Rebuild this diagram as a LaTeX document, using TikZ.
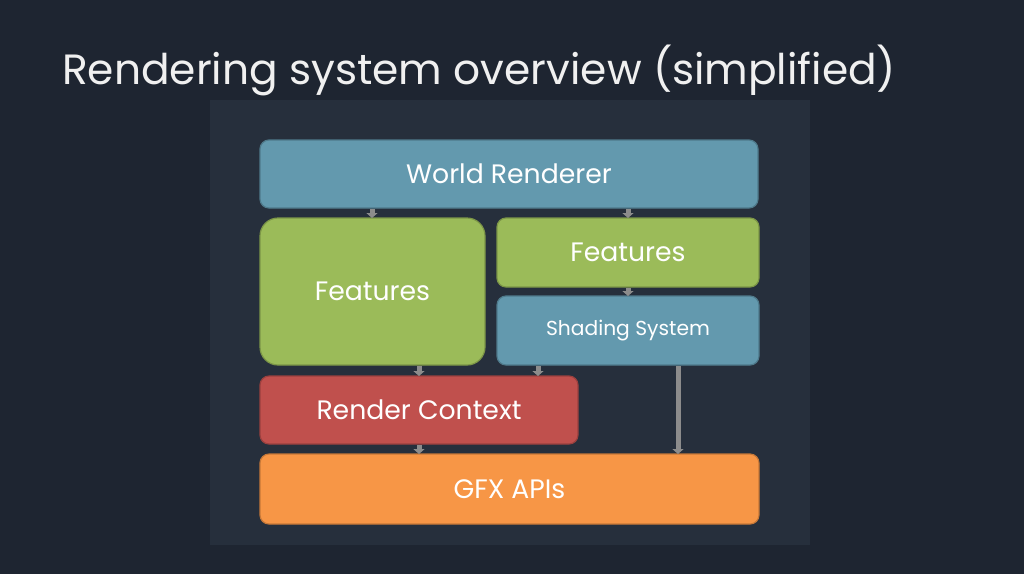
\documentclass[tikz,border=0pt]{standalone}
\usepackage{fontspec}
\setmainfont{Poppins}[Scale=0.92]
\begin{document}
\begin{tikzpicture}[x=1pt,y=-1pt,
  box/.style={rounded corners=9pt,draw,line width=1.2pt,text=white},
  arr/.style={draw={rgb,255:red,140;green,140;blue,140},line width=5pt,-{Triangle[length=5pt,width=11pt]}},
  font=\fontsize{29}{32}\selectfont]
\usetikzlibrary{arrows.meta}
\fill[fill={rgb,255:red,30;green,37;blue,49}] (0,0) rectangle (1024,574);
\fill[fill={rgb,255:red,38;green,47;blue,60}] (210,100) rectangle (810,545);
\useasboundingbox (0,0) rectangle (1024,574);
\node[anchor=base west,text={rgb,255:red,240;green,240;blue,240},font=\fontsize{46}{50}\selectfont,inner sep=0pt] (title) at (62,84) {Rendering system overview (simplified)};
\definecolor{bl}{RGB}{99,153,174}
\definecolor{gr}{RGB}{155,187,89}
\definecolor{rd}{RGB}{192,80,77}
\definecolor{og}{RGB}{247,150,70}
\path[box,fill=bl,draw=bl!80!black] (260,140) rectangle node (wr) {World Renderer} (758,208);
\path[box,fill=gr,draw=gr!80!black,rounded corners=18pt] (260,218) rectangle node (f1) {Features} (485,365);
\path[box,fill=gr,draw=gr!80!black] (497,218) rectangle node (f2) {Features} (759,287);
\path[box,fill=bl,draw=bl!80!black] (497,296) rectangle node[font=\fontsize{22}{24}\selectfont] (ss) {Shading System} (759,365);
\path[box,fill=rd,draw=rd!80!black] (260,376) rectangle node (rc) {Render Context} (578,444);
\path[box,fill=og,draw=og!80!black] (260,454) rectangle node (gfx) {GFX APIs} (759,524);
\coordinate (a1) at (372,209); \coordinate (b1) at (372,218);
\coordinate (a2) at (628,209); \coordinate (b2) at (628,218);
\coordinate (a3) at (628,288); \coordinate (b3) at (628,296);
\coordinate (a4) at (419,366); \coordinate (b4) at (419,376);
\coordinate (a5) at (538,366); \coordinate (b5) at (538,376);
\coordinate (a6) at (419,445); \coordinate (b6) at (419,454);
\coordinate (a7) at (678,366); \coordinate (b7) at (678,454);
\foreach \i in {1,...,7} \draw[arr] (a\i) -- (b\i);
\end{tikzpicture}
\end{document}
